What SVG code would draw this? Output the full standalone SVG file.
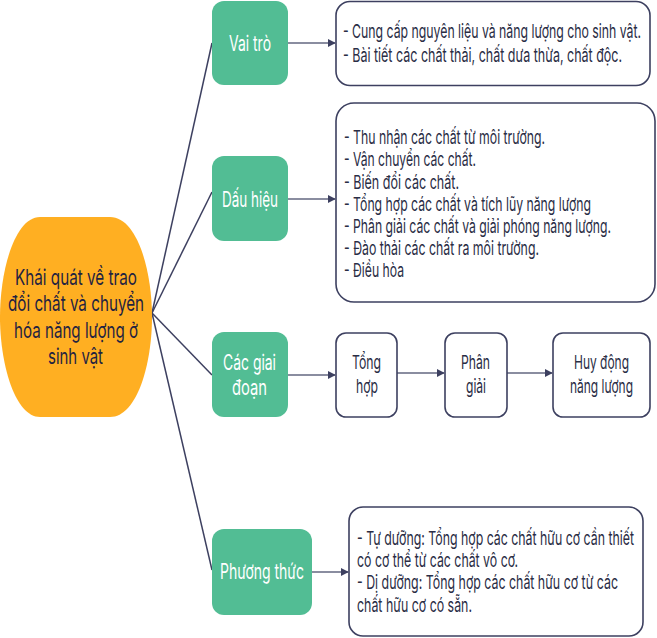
<svg xmlns="http://www.w3.org/2000/svg" width="657" height="638" viewBox="0 0 657 638">
<style>
.g{fill:#52BD94}
.b{fill:#fff;stroke:#3d4060;stroke-width:1.6}
.tw{font-family:Inter,"Noto Sans",sans-serif;font-size:21px;fill:#fff}
.td{font-family:Inter,"Noto Sans",sans-serif;font-size:19px;fill:#2a2d45}
.te{font-family:Inter,"Noto Sans",sans-serif;font-size:22px;fill:#1f2341}
.c{stroke:#3d4060;stroke-width:1.5;fill:none}
.a{stroke:#8a8da0;stroke-width:2;fill:none;marker-end:url(#ah)}
</style>
<defs>
<marker id="ah" viewBox="0 0 10 10" refX="9" refY="5" markerWidth="4" markerHeight="4" orient="auto" markerUnits="strokeWidth">
<path d="M0,0 L10,5 L0,10 Z" fill="#3d4060"/>
</marker>
</defs>
<rect width="657" height="638" fill="#fff"/>
<g id="connectors">
<line class="c" x1="152" y1="313" x2="212" y2="43"/>
<line class="c" x1="152" y1="313" x2="212" y2="192"/>
<line class="c" x1="152" y1="313" x2="212" y2="375"/>
<line class="c" x1="152" y1="313" x2="212" y2="570"/>
<line class="a" x1="288" y1="43" x2="335" y2="43"/>
<line class="a" x1="288" y1="199" x2="335" y2="199"/>
<line class="a" x1="288" y1="375" x2="335" y2="375"/>
<line class="a" x1="397" y1="373" x2="444" y2="373"/>
<line class="a" x1="507" y1="373" x2="552" y2="373"/>
<line class="a" x1="312" y1="572" x2="348" y2="572"/>
</g>
<g id="root">
<path d="M40,217 H110 C137,217 152,270 152,317 C152,364 137,417 110,417 H40 C15,417 0,364 0,317 C0,270 15,217 40,217 Z" fill="#FFAF22"/>
<text class="te" x="15" y="285" textLength="122" lengthAdjust="spacingAndGlyphs">Khái quát về trao</text>
<text class="te" x="8" y="311" textLength="136" lengthAdjust="spacingAndGlyphs">đổi chất và chuyển</text>
<text class="te" x="14" y="338" textLength="124" lengthAdjust="spacingAndGlyphs">hóa năng lượng ở</text>
<text class="te" x="48" y="364" textLength="55" lengthAdjust="spacingAndGlyphs">sinh vật</text>
</g>
<g id="vaitro">
<rect class="g" x="212" y="1" width="76" height="84" rx="12"/>
<text class="tw" x="229" y="51" textLength="42" lengthAdjust="spacingAndGlyphs">Vai trò</text>
</g>
<g id="dauhieu">
<rect class="g" x="212" y="156" width="76" height="85" rx="12"/>
<text class="tw" x="222" y="207" textLength="56" lengthAdjust="spacingAndGlyphs">Dấu hiệu</text>
</g>
<g id="giaidoan">
<rect class="g" x="212" y="332" width="76" height="85" rx="12"/>
<text class="tw" x="223" y="370" textLength="53" lengthAdjust="spacingAndGlyphs">Các giai</text>
<text class="tw" x="232" y="395" textLength="35" lengthAdjust="spacingAndGlyphs">đoạn</text>
</g>
<g id="phuongthuc">
<rect class="g" x="212" y="529" width="100" height="86" rx="12"/>
<text class="tw" x="220" y="579" textLength="84" lengthAdjust="spacingAndGlyphs">Phương thức</text>
</g>
<g id="vaitro-text">
<rect class="b" x="336" y="1.5" width="314" height="84" rx="14"/>
<text class="td" x="343" y="38" textLength="298" lengthAdjust="spacingAndGlyphs">- Cung cấp nguyên liệu và năng lượng cho sinh vật.</text>
<text class="td" x="343" y="62" textLength="279" lengthAdjust="spacingAndGlyphs">- Bài tiết các chất thải, chất dưa thừa, chất độc.</text>
</g>
<g id="dauhieu-text">
<rect class="b" x="336" y="103" width="319" height="199" rx="18"/>
<text class="td" x="344" y="144" textLength="201" lengthAdjust="spacingAndGlyphs">- Thu nhận các chất từ môi trường.</text>
<text class="td" x="344" y="166" textLength="132" lengthAdjust="spacingAndGlyphs">- Vận chuyển các chất.</text>
<text class="td" x="344" y="189" textLength="115" lengthAdjust="spacingAndGlyphs">- Biến đổi các chất.</text>
<text class="td" x="344" y="211" textLength="247" lengthAdjust="spacingAndGlyphs">- Tổng hợp các chất và tích lũy năng lượng</text>
<text class="td" x="344" y="233" textLength="267" lengthAdjust="spacingAndGlyphs">- Phân giải các chất và giải phóng năng lượng.</text>
<text class="td" x="344" y="255" textLength="195" lengthAdjust="spacingAndGlyphs">- Đào thải các chất ra môi trường.</text>
<text class="td" x="344" y="277" textLength="60" lengthAdjust="spacingAndGlyphs">- Điều hòa</text>
</g>
<g id="tonghop">
<rect class="b" x="336" y="333" width="61" height="84" rx="10"/>
<text class="td" x="352" y="369" textLength="29" lengthAdjust="spacingAndGlyphs">Tổng</text>
<text class="td" x="356" y="393" textLength="22" lengthAdjust="spacingAndGlyphs">hợp</text>
</g>
<g id="phangiai">
<rect class="b" x="445" y="333" width="62" height="84" rx="10"/>
<text class="td" x="461" y="369" textLength="29" lengthAdjust="spacingAndGlyphs">Phân</text>
<text class="td" x="466" y="393" textLength="20" lengthAdjust="spacingAndGlyphs">giải</text>
</g>
<g id="huydong">
<rect class="b" x="553" y="333" width="97" height="84" rx="10"/>
<text class="td" x="574" y="369" textLength="55" lengthAdjust="spacingAndGlyphs">Huy động</text>
<text class="td" x="570" y="393" textLength="63" lengthAdjust="spacingAndGlyphs">năng lượng</text>
</g>
<g id="phuongthuc-text">
<rect class="b" x="349" y="507" width="294" height="129" rx="14"/>
<text class="td" x="357" y="545" textLength="277" lengthAdjust="spacingAndGlyphs">- Tự dưỡng: Tổng hợp các chất hữu cơ cần thiết</text>
<text class="td" x="357" y="567" textLength="161" lengthAdjust="spacingAndGlyphs">có cơ thể từ các chất vô cơ.</text>
<text class="td" x="357" y="589" textLength="261" lengthAdjust="spacingAndGlyphs">- Dị dưỡng: Tổng hợp các chất hữu cơ từ các</text>
<text class="td" x="357" y="612" textLength="115" lengthAdjust="spacingAndGlyphs">chất hữu cơ có sẵn.</text>
</g>
</svg>
